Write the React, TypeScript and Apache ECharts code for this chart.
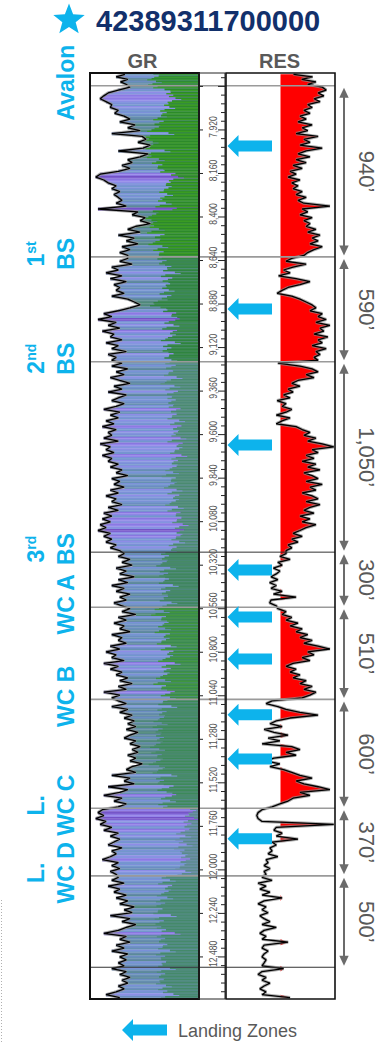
import React, { useEffect, useRef } from "react";
import * as echarts from "echarts";

// ---------------- data ----------------
const wellName = "42389311700000";
const trackTitles = ["GR", "RES"];
const legendLabel = "Landing Zones";

// zone tops (ft): log top, Avalon, 1st BS, 2nd BS, 3rd BS, WC A, WC B, L. WC C, L. WC D, base marker
const zoneTops = [7606, 7676, 8620, 9198, 10248, 10552, 11060, 11660, 12033, 12537];
const logBottom = 12712;

const formationNames = ["Avalon", "BS", "BS", "BS", "WC A", "WC B", "WC C", "WC D"];
const formationPrefixes = ["", "1st", "2nd", "3rd", "", "", "L.", "L."];
const intervalLabels = ["940\u2019", "590\u2019", "1,050\u2019", "300\u2019", "510\u2019", "600\u2019", "370\u2019", "500\u2019"];

const depthLabels = [7920, 8160, 8400, 8640, 8880, 9120, 9360, 9600, 9840, 10080, 10320, 10560, 10800, 11040, 11280, 11520, 11760, 12000, 12240, 12480];
const landingDepths = [8008, 8907, 9657, 10346, 10605, 10837, 11145, 11388, 11829];

// GR (API) samples per zone
const grTop = [48, 36, 52, 42, 50];
const grAvalon = [55, 39, 25, 19, 14, 22, 30, 28, 39, 34, 47, 55, 41, 62, 52, 69, 30, 72, 77, 66, 83, 73, 39, 80, 69, 52, 58, 44, 55, 39, 14, 8, 19, 25, 36, 30, 41, 33, 39, 44, 36, 50, 11, 66, 58, 76, 69, 83, 63, 52, 69, 39, 61, 50, 66, 44, 55, 41, 52];
const grBS1 = [52, 41, 58, 30, 39, 22, 44, 28, 50, 33, 41, 36, 47, 30, 52, 61, 69, 55, 39, 19, 30, 11, 36, 25, 41, 17, 33, 28, 44, 22, 39, 30, 50, 25, 36, 30];
const grBS2 = [44, 30, 52, 36, 47, 28, 41, 55, 33, 44, 25, 50, 39, 30, 47, 36, 19, 41, 28, 39, 22, 33, 17, 36, 25, 30, 19, 39, 14, 28, 22, 33, 17, 30, 25, 39, 28, 44, 36, 52, 30, 41, 33, 47, 28, 39, 22, 36, 30, 44, 25, 39, 19, 30, 17, 28, 14, 22, 11, 28, 19, 30, 22, 36, 28, 41];
const grBS3 = [47, 39, 55, 44, 58, 36, 50, 41, 61, 39, 52, 30, 47, 36, 55, 41, 50, 33, 44];
const grWCA = [55, 44, 63, 39, 50, 33, 47, 41, 55, 30, 44, 39, 50, 28, 41, 22, 36, 30, 47, 19, 39, 28, 44, 36, 52, 41, 58, 39, 50, 19, 41, 30];
const grWCB = [39, 50, 30, 52, 41, 58, 47, 61, 52, 63, 50, 66, 55, 47, 63, 55, 69, 58, 66, 52, 63, 55, 72, 58, 50, 63, 30, 55, 47, 61, 25, 52, 41, 19, 44, 33, 50, 39];
const grWCC = [17, 11, 19, 8, 22, 14, 30, 19, 39, 28, 41, 33, 25, 44, 30, 36, 28, 17, 39, 30, 41, 28, 36];
const grWCD = [39, 30, 47, 25, 41, 33, 50, 36, 52, 41, 61, 47, 58, 28, 55, 44, 63, 50, 39, 19, 50, 41, 55, 36, 47, 30, 52, 41, 50, 39, 47];
const grBase = [30, 50, 41, 55, 44, 52, 39, 47, 36, 22, 41];
// GR value from which the green (carbonate) colouring begins, per zone
const grGreenStart = [92, 102, 106, 112, 108, 104, 106, 124, 104, 104];

// Resistivity (ohm-m) samples per zone
const resTop = [60, 300, 120, 400, 200];
const resAvalon = [680, 950, 480, 780, 340, 564, 200, 290, 145, 242, 104, 175, 88, 290, 125, 200, 75, 480, 145, 242, 104, 680, 175, 88, 242, 75, 175, 58, 125, 45, 75, 38, 104, 52, 88, 58, 125, 75, 175, 88, 145, 1300, 125, 200, 104, 290, 145, 242, 175, 400, 200, 564, 290, 480, 242, 680, 340, 200, 145];
const resBS1 = [52, 32, 175, 58, 26, 45, 17, 75, 242, 104, 38, 23, 15, 52, 104, 175, 290, 400, 242, 680, 480, 950, 400, 1300, 564, 780, 340, 1100, 480, 680, 290, 950, 400, 564, 340, 480];
const resBS2 = [16, 104, 290, 480, 175, 340, 88, 52, 104, 38, 58, 26, 45, 15, 32, 23, 52, 32, 14, 45, 23, 14, 75, 125, 242, 145, 400, 200, 680, 1800, 290, 480, 175, 340, 125, 400, 200, 564, 145, 290, 480, 175, 680, 242, 400, 125, 290, 480, 175, 564, 242, 145, 340, 104, 242, 125, 400, 175, 104, 58, 125, 52, 88, 38, 52, 32];
const resBS3 = [32, 19, 45, 16, 23, 11, 19, 14, 9, 16, 8, 14, 9, 23, 11, 75, 9, 8, 14];
const resWCA = [16, 32, 23, 52, 32, 88, 45, 125, 75, 200, 104, 290, 145, 480, 1300, 200, 340, 125, 242, 58, 32, 75, 45, 104, 58, 175, 104, 290, 145, 400, 242, 125];
const resWCB = [9.8, 5.9, 16, 32, 104, 480, 45, 14, 8.2, 23, 5, 11.5, 38, 7, 19, 4.2, 52, 104, 32, 75, 11.5, 5.9, 19, 8.2, 26, 52, 104, 290, 75, 145, 480, 1300, 104, 242, 58, 38, 19, 9.8];
const resWCC = [4.2, 3.0, 2.7, 3.0, 4.2, 1800, 14, 11.5, 23, 14, 88, 9.8, 14, 8.2, 9.8, 7, 16, 5.9, 7, 5, 8.2, 5, 5.9];
const resWCD = [4.2, 9.8, 3.0, 5.9, 3.5, 8.2, 4.2, 23, 5, 3, 5.9, 4.2, 7, 3.5, 5, 8.2, 4.2, 14, 5, 3.5, 5.9, 4.2, 38, 5, 4.2, 7, 5, 4.2, 5.9, 5, 4.2];
const resBase = [26, 4.2, 3.0, 5.9, 4.2, 8.2, 5, 3.5, 5.9, 4.2, 45];
const resCutoff = 20;

const grZones = [grTop, grAvalon, grBS1, grBS2, grBS3, grWCA, grWCB, grWCC, grWCD, grBase];
const resZones = [resTop, resAvalon, resBS1, resBS2, resBS3, resWCA, resWCB, resWCC, resWCD, resBase];

// ---------------- layout & style ----------------
const FONT = "'Liberation Sans', Arial, Helvetica, sans-serif";
const CYAN = "#0db3ec";
const NAVY = "#12306b";
const GREY_TXT = "#595959";
const TOP = 73;
const HEIGHT = 926;
const GR_L = 90, GR_W = 109;
const DP_L = 199, DP_W = 26;
const RS_L = 226, RS_W = 109;
const GR_MAX = 150;

const grPaletteA = ["#7352c6", "#8a76e0", "#8e8ce6", "#7b90d8", "#6c8cc2", "#6389a8", "#578a86"];
const grPaletteB = ["#7e60d0", "#9484ea", "#8496de", "#7397cc", "#6690b2", "#5c8b98", "#4f8a78"];
const grBreaks = [12, 20, 30, 40, 50, 60];
const zoneGreenA = ["#2f8a36", "#2c8a2a", "#3b8a4c", "#4a8a70", "#468a66", "#3a8a50", "#4a8a6c", "#5a8a8a", "#44896a", "#44896a"];
const zoneGreenB = ["#3a9a30", "#3a9c22", "#2f8440", "#58917e", "#3f8560", "#40963e", "#3c8a58", "#6a8fa4", "#4f8c7c", "#4f8c7c"];

function grColor(v: number, alt: boolean) {
  let k = 0;
  while (k < grBreaks.length && v >= grBreaks[k]) k++;
  return alt ? grPaletteB[k] : grPaletteA[k];
}

function buildSamples(zones: number[][]) {
  const cells: number[][] = [];
  const points: number[][] = [];
  zones.forEach((arr, z) => {
    const top = zoneTops[z];
    const bottom = z + 1 < zoneTops.length ? zoneTops[z + 1] : logBottom;
    const h = (bottom - top) / arr.length;
    arr.forEach((v, i) => {
      cells.push([v, top + i * h, top + (i + 1) * h, z, cells.length]);
      points.push([v, top + (i + 0.5) * h]);
    });
  });
  return { cells, points };
}

function arrowPts(tipX: number, cy: number, headLen: number, headHalf: number, bodyHalf: number, endX: number) {
  return [
    [tipX, cy],
    [tipX + headLen, cy - headHalf],
    [tipX + headLen, cy - bodyHalf],
    [endX, cy - bodyHalf],
    [endX, cy + bodyHalf],
    [tipX + headLen, cy + bodyHalf],
    [tipX + headLen, cy + headHalf],
  ];
}

function starPts(cx: number, cy: number, R: number, r: number) {
  const pts: number[][] = [];
  for (let k = 0; k < 10; k++) {
    const a = -Math.PI / 2 + (k * Math.PI) / 5;
    const rad = k % 2 === 0 ? R : r;
    pts.push([cx + rad * Math.cos(a), cy + rad * Math.sin(a)]);
  }
  return pts;
}

function txt(text: string, x: number, y: number, font: string, fill: string, align = "left", vAlign = "middle") {
  return {
    type: "text",
    x,
    y,
    z: 20,
    style: { text, font, fill, align, verticalAlign: vAlign, textAlign: align, textVerticalAlign: vAlign },
  };
}

export default function App() {
  const ref = useRef<HTMLDivElement>(null);

  useEffect(() => {
    if (!ref.current) return;
    const chart = echarts.init(ref.current, undefined, { renderer: "svg" });

    const gr = buildSamples(grZones);
    const res = buildSamples(resZones);

    const ticks: number[][] = [];
    for (let d = depthLabels[0] - 48 * 6; d <= logBottom; d += 48) {
      ticks.push([0.5, d, (d - depthLabels[0]) % 240 === 0 ? 1 : 0]);
    }

    const yAxisBase = { type: "value", min: zoneTops[0], max: logBottom, inverse: true, show: false };

    const option: any = {
      animation: false,
      grid: [
        { left: GR_L, top: TOP, width: GR_W, height: HEIGHT, show: false },
        { left: DP_L, top: TOP, width: DP_W, height: HEIGHT, show: false },
        { left: RS_L, top: TOP, width: RS_W, height: HEIGHT, show: false },
      ],
      xAxis: [
        { gridIndex: 0, type: "value", min: 0, max: GR_MAX, show: false },
        { gridIndex: 1, type: "value", min: 0, max: 1, show: false },
        { gridIndex: 2, type: "log", min: 0.2, max: 2000, logBase: 10, show: false },
      ],
      yAxis: [
        { gridIndex: 0, ...yAxisBase },
        { gridIndex: 1, ...yAxisBase },
        { gridIndex: 2, ...yAxisBase },
      ],
      series: [
        // GR colour fill (two stripes per sample)
        {
          type: "custom",
          xAxisIndex: 0,
          yAxisIndex: 0,
          z: 2,
          clip: true,
          silent: true,
          data: gr.cells,
          renderItem: (params: any, api: any) => {
            const v = api.value(0), d0 = api.value(1), d1 = api.value(2), z = api.value(3), k = api.value(4);
            const a = api.coord([v, d0]);
            const b = api.coord([GR_MAX, d1]);
            const gStart = Math.max(v + 4, grGreenStart[z] - (v - 40) * 0.6);
            const g = api.coord([Math.min(gStart, GR_MAX), d0]);
            const g2 = api.coord([Math.min(gStart + (k % 3 === 0 ? 8 : -6), GR_MAX), d0]);
            const hh = b[1] - a[1];
            const half = hh / 2;
            const w = b[0] - a[0];
            const g2x = Math.max(a[0], g2[0]);
            return {
              type: "group",
              children: [
                { type: "rect", shape: { x: a[0], y: a[1], width: w, height: half + 0.3 }, style: { fill: grColor(v, false) } },
                { type: "rect", shape: { x: a[0], y: a[1] + half, width: w, height: half + 0.3 }, style: { fill: grColor(v, true) } },
                { type: "rect", shape: { x: g[0], y: a[1], width: Math.max(0, b[0] - g[0]), height: half + 0.3 }, style: { fill: zoneGreenA[z] } },
                { type: "rect", shape: { x: g2x, y: a[1] + half, width: Math.max(0, b[0] - g2x), height: half + 0.3 }, style: { fill: zoneGreenB[z] } },
              ],
            };
          },
        },
        // GR halo + curve
        {
          type: "line", xAxisIndex: 0, yAxisIndex: 0, z: 3, silent: true, symbol: "none",
          data: gr.points, lineStyle: { color: "#8c8c8c", width: 3.2, opacity: 0.7 },
        },
        {
          type: "line", xAxisIndex: 0, yAxisIndex: 0, z: 4, silent: true, symbol: "none",
          data: gr.points, lineStyle: { color: "#000", width: 1.3 },
        },
        // RES red fill
        {
          type: "custom",
          xAxisIndex: 2,
          yAxisIndex: 2,
          z: 2,
          clip: true,
          silent: true,
          data: [[resCutoff, zoneTops[0]]],
          renderItem: (params: any, api: any) => {
            const first = res.points[0];
            const last = res.points[res.points.length - 1];
            const pts: number[][] = [api.coord([resCutoff, first[1]])];
            res.points.forEach((p) => pts.push(api.coord([Math.max(p[0], resCutoff), p[1]])));
            pts.push(api.coord([resCutoff, last[1]]));
            return { type: "polygon", shape: { points: pts }, style: { fill: "#ff0000" } };
          },
        },
        {
          type: "line", xAxisIndex: 2, yAxisIndex: 2, z: 3, silent: true, symbol: "none",
          data: res.points, lineStyle: { color: "#8c8c8c", width: 3.2, opacity: 0.7 },
        },
        {
          type: "line", xAxisIndex: 2, yAxisIndex: 2, z: 4, silent: true, symbol: "none",
          data: res.points, lineStyle: { color: "#000", width: 1.3 },
        },
        // formation boundary lines across all tracks
        {
          type: "custom",
          xAxisIndex: 0,
          yAxisIndex: 0,
          z: 5,
          silent: true,
          data: zoneTops.slice(1).map((d) => [0, d]),
          renderItem: (params: any, api: any) => {
            const y = api.coord([0, api.value(1)])[1];
            const dark = params.dataIndex === 3 || params.dataIndex === 8;
            return {
              type: "line",
              shape: { x1: GR_L, y1: y, x2: RS_L + RS_W, y2: y },
              style: { stroke: dark ? "#333" : "#9a9a9a", lineWidth: dark ? 1 : 1.6 },
            };
          },
        },
        // formation names (left)
        {
          type: "custom",
          xAxisIndex: 0,
          yAxisIndex: 0,
          z: 6,
          silent: true,
          data: formationNames.map((_, i) => [0, zoneTops[i + 1]]),
          renderItem: (params: any, api: any) => {
            const i = params.dataIndex;
            const y = api.coord([0, api.value(1)])[1] - 3;
            const children: any[] = [
              {
                type: "text", x: 66, y, rotation: Math.PI / 2,
                style: { text: formationNames[i], font: `bold 23px ${FONT}`, fill: CYAN, align: "center", verticalAlign: "middle" },
              },
            ];
            const pre = formationPrefixes[i];
            if (pre) {
              const m = pre.match(/^(\d)(\D+)$/);
              if (m) {
                children.push({
                  type: "text", x: 36, y, rotation: Math.PI / 2,
                  style: {
                    text: `{n|${m[1]}}{s|${m[2]}}`,
                    align: "center", verticalAlign: "middle", fill: CYAN,
                    rich: {
                      n: { fontSize: 23, fontWeight: "bold", fontFamily: FONT, fill: CYAN, lineHeight: 24 },
                      s: { fontSize: 14, fontWeight: "bold", fontFamily: FONT, fill: CYAN, verticalAlign: "top", lineHeight: 24 },
                    },
                  },
                });
              } else {
                children.push({
                  type: "text", x: 36, y, rotation: Math.PI / 2,
                  style: { text: pre, font: `bold 23px ${FONT}`, fill: CYAN, align: "center", verticalAlign: "middle" },
                });
              }
            }
            return { type: "group", children };
          },
        },
        // depth ticks
        {
          type: "custom",
          xAxisIndex: 1,
          yAxisIndex: 1,
          z: 6,
          silent: true,
          data: ticks,
          renderItem: (params: any, api: any) => {
            const y = api.coord([0, api.value(1)])[1];
            const major = api.value(2) === 1;
            const right = DP_L + DP_W;
            const children: any[] = [
              { type: "line", shape: { x1: right - (major ? 7 : 4), y1: y, x2: right, y2: y }, style: { stroke: "#222", lineWidth: 1 } },
            ];
            if (major) children.push({ type: "line", shape: { x1: DP_L, y1: y, x2: DP_L + 4, y2: y }, style: { stroke: "#222", lineWidth: 1 } });
            return { type: "group", children };
          },
        },
        // depth labels
        {
          type: "custom",
          xAxisIndex: 1,
          yAxisIndex: 1,
          z: 6,
          silent: true,
          data: depthLabels.map((d) => [0.5, d]),
          renderItem: (params: any, api: any) => {
            const d = api.value(1);
            const y = api.coord([0, d])[1] - 3;
            return {
              type: "text", x: 213, y, rotation: Math.PI / 2, scaleX: 0.82,
              style: { text: d.toLocaleString("en-US"), font: `10.5px ${FONT}`, fill: "#555", align: "center", verticalAlign: "middle" },
            };
          },
        },
        // landing zone arrows
        {
          type: "custom",
          xAxisIndex: 2,
          yAxisIndex: 2,
          z: 8,
          silent: true,
          data: landingDepths.map((d) => [1, d]),
          renderItem: (params: any, api: any) => {
            const y = api.coord([1, api.value(1)])[1];
            return { type: "polygon", shape: { points: arrowPts(RS_L + 1.5, y, 11, 11, 5.5, 272) }, style: { fill: CYAN } };
          },
        },
        // interval thickness arrows (right)
        {
          type: "custom",
          xAxisIndex: 2,
          yAxisIndex: 2,
          z: 6,
          silent: true,
          data: intervalLabels.map((_, i) => [1, zoneTops[i + 1], zoneTops[i + 2]]),
          renderItem: (params: any, api: any) => {
            const i = params.dataIndex;
            const y0 = api.coord([1, api.value(1)])[1] + 2;
            const y1 = api.coord([1, api.value(2)])[1] - 1.5;
            const x = 344;
            const c = "#6b6b6b";
            return {
              type: "group",
              children: [
                { type: "line", shape: { x1: x, y1: y0 + 8, x2: x, y2: y1 - 8 }, style: { stroke: c, lineWidth: 2 } },
                { type: "polygon", shape: { points: [[x, y0], [x - 4.7, y0 + 10], [x + 4.7, y0 + 10]] }, style: { fill: c } },
                { type: "polygon", shape: { points: [[x, y1], [x - 4.7, y1 - 10], [x + 4.7, y1 - 10]] }, style: { fill: c } },
                {
                  type: "text", x: 366, y: (y0 + y1) / 2, rotation: -Math.PI / 2,
                  style: { text: intervalLabels[i], font: `22px ${FONT}`, fill: GREY_TXT, align: "center", verticalAlign: "middle" },
                },
              ],
            };
          },
        },
      ],
      graphic: [
        { type: "polygon", z: 20, shape: { points: starPts(69, 20, 16.5, 7) }, style: { fill: CYAN } },
        txt(wellName, 96, 21, `bold 29px ${FONT}`, NAVY),
        txt(trackTitles[0], GR_L + GR_W / 2 - 2, 61, `bold 20px ${FONT}`, GREY_TXT, "center"),
        txt(trackTitles[1], RS_L + RS_W / 2 - 1, 61, `bold 20px ${FONT}`, GREY_TXT, "center"),
        { type: "rect", z: 30, shape: { x: GR_L, y: TOP, width: GR_W, height: HEIGHT }, style: { fill: "none", stroke: "#111", lineWidth: 2 } },
        { type: "rect", z: 30, shape: { x: DP_L, y: TOP, width: DP_W, height: HEIGHT }, style: { fill: "none", stroke: "#222", lineWidth: 1 } },
        { type: "rect", z: 30, shape: { x: RS_L, y: TOP, width: RS_W, height: HEIGHT }, style: { fill: "none", stroke: "#111", lineWidth: 1.6 } },
        { type: "polygon", z: 20, shape: { points: arrowPts(122, 1030, 11, 11, 5.5, 167) }, style: { fill: CYAN } },
        txt(legendLabel, 178, 1031, `18px ${FONT}`, GREY_TXT),
        { type: "line", z: 20, shape: { x1: 1.5, y1: 900, x2: 1.5, y2: 1042 }, style: { stroke: "#b0b0b0", lineWidth: 1, lineDash: [1, 2] } },
      ],
    };

    chart.setOption(option);
    return () => chart.dispose();
  }, []);

  return <div ref={ref} style={{ position: "absolute", left: 0, top: 0, width: 385, height: 1042, background: "#fff" }} />;
}
